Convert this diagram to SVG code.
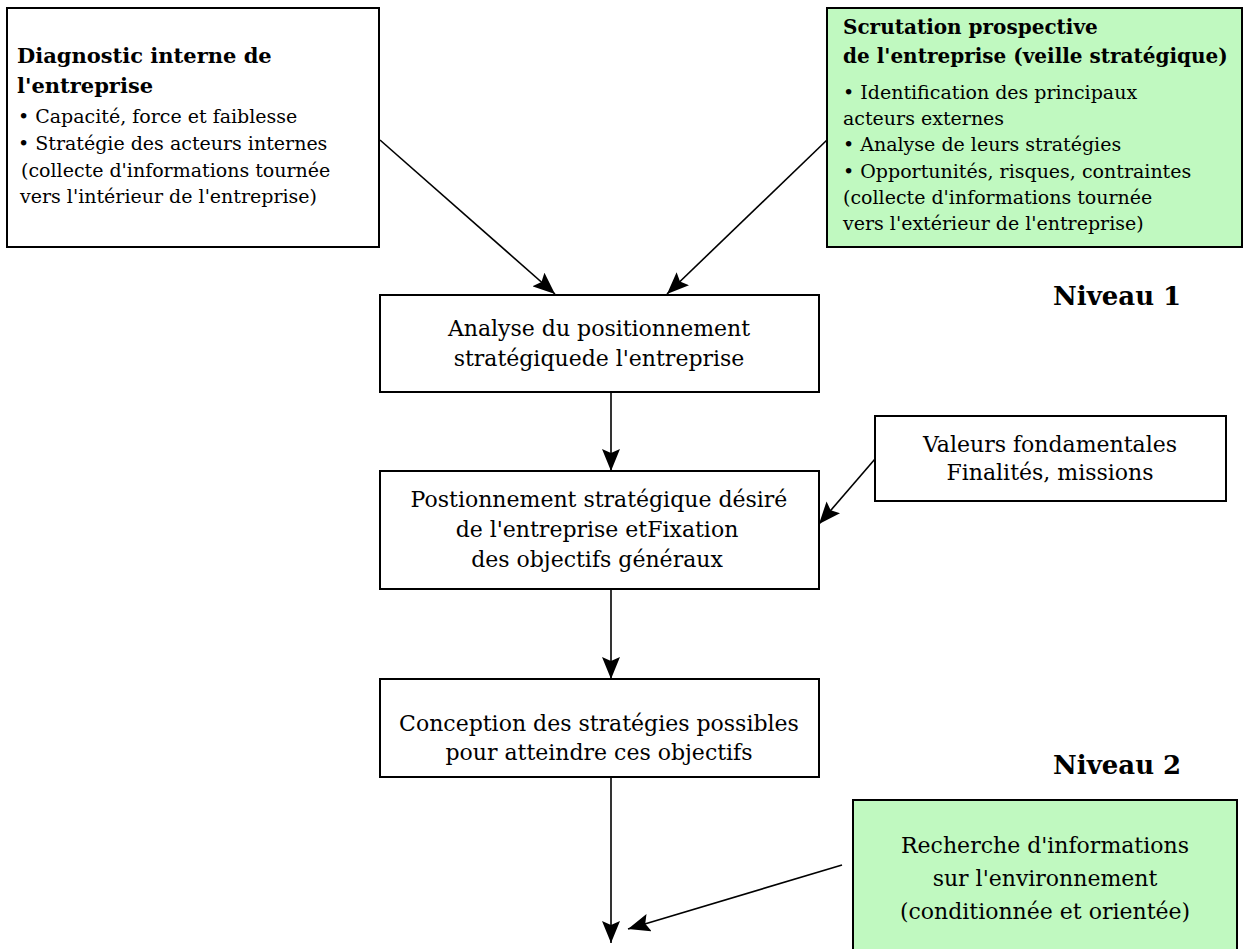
<svg xmlns="http://www.w3.org/2000/svg" width="1248" height="949" viewBox="0 0 1248 949">
  <style>
    .box { fill: #ffffff; stroke: #000000; stroke-width: 2; }
    .green { fill: #c0f9c0; stroke: #000000; stroke-width: 2; }
    .t { font-family: "DejaVu Serif", serif; fill: #000000; }
    .c { text-anchor: middle; font-size: 22px; }
    .small { font-size: 19px; }
    .title { font-size: 21px; font-weight: bold; }
    .title-r { font-size: 20px; font-weight: bold; }
    .lvl { font-size: 26px; font-weight: bold; }
    .link { fill: none; stroke: #000000; stroke-width: 1.6; marker-end: url(#head); }
  </style>
  <defs>
    <marker id="head" viewBox="0 0 22 18" refX="22" refY="9" markerWidth="22" markerHeight="18" markerUnits="userSpaceOnUse" orient="auto">
      <path d="M0,0 L22,9 L0,18 L4,9 Z" fill="#000000"/>
    </marker>
  </defs>
  <rect width="1248" height="949" fill="#ffffff"/>

  <g id="connectors">
    <line class="link" x1="380" y1="140" x2="555" y2="294"/>
    <line class="link" x1="827" y1="140" x2="667" y2="294"/>
    <line class="link" x1="611" y1="392" x2="611" y2="471"/>
    <line class="link" x1="875" y1="459" x2="819" y2="524"/>
    <line class="link" x1="611" y1="589" x2="611" y2="679"/>
    <line class="link" x1="611" y1="777" x2="611" y2="943"/>
    <line class="link" x1="842" y1="865" x2="628" y2="929"/>
  </g>

  <g id="diagnostic-interne">
    <rect class="box" x="7" y="8" width="372" height="239"/>
    <text class="t title" x="17" y="63">Diagnostic interne de</text>
    <text class="t title" x="17" y="93">l'entreprise</text>
    <text class="t small" x="18" y="123">• Capacité, force et faiblesse</text>
    <text class="t small" x="18" y="150">• Stratégie des acteurs internes</text>
    <text class="t small" x="21" y="177">(collecte d'informations tournée</text>
    <text class="t small" x="20" y="203">vers l'intérieur de l'entreprise)</text>
  </g>

  <g id="scrutation-prospective">
    <rect class="green" x="827" y="8" width="415" height="239"/>
    <text class="t title-r" x="843" y="34">Scrutation prospective</text>
    <text class="t title-r" x="843" y="63">de l'entreprise (veille stratégique)</text>
    <text class="t small" x="843" y="99">• Identification des principaux</text>
    <text class="t small" x="843" y="125">acteurs externes</text>
    <text class="t small" x="843" y="151">• Analyse de leurs stratégies</text>
    <text class="t small" x="843" y="178">• Opportunités, risques, contraintes</text>
    <text class="t small" x="843" y="204">(collecte d'informations tournée</text>
    <text class="t small" x="843" y="230">vers l'extérieur de l'entreprise)</text>
  </g>

  <g id="niveau-1">
    <text class="t lvl" x="1053" y="305">Niveau 1</text>
  </g>

  <g id="analyse-positionnement">
    <rect class="box" x="380" y="295" width="439" height="97"/>
    <text class="t c" x="599" y="336">Analyse du positionnement</text>
    <text class="t c" x="599" y="366">stratégiquede l'entreprise</text>
  </g>

  <g id="valeurs-fondamentales">
    <rect class="box" x="875" y="416" width="351" height="85"/>
    <text class="t c" x="1050" y="452">Valeurs fondamentales</text>
    <text class="t c" x="1050" y="480">Finalités, missions</text>
  </g>

  <g id="positionnement-desire">
    <rect class="box" x="380" y="471" width="439" height="118"/>
    <text class="t c" x="599" y="507">Postionnement stratégique désiré</text>
    <text class="t c" x="597" y="537">de l'entreprise etFixation</text>
    <text class="t c" x="597" y="567">des objectifs généraux</text>
  </g>

  <g id="conception-strategies">
    <rect class="box" x="380" y="679" width="439" height="98"/>
    <text class="t c" x="599" y="731">Conception des stratégies possibles</text>
    <text class="t c" x="599" y="760">pour atteindre ces objectifs</text>
  </g>

  <g id="niveau-2">
    <text class="t lvl" x="1053" y="774">Niveau 2</text>
  </g>

  <g id="recherche-informations">
    <rect class="green" x="853" y="800" width="384" height="160"/>
    <text class="t c" x="1045" y="853">Recherche d'informations</text>
    <text class="t c" x="1045" y="886">sur l'environnement</text>
    <text class="t c" x="1045" y="919">(conditionnée et orientée)</text>
  </g>
</svg>
